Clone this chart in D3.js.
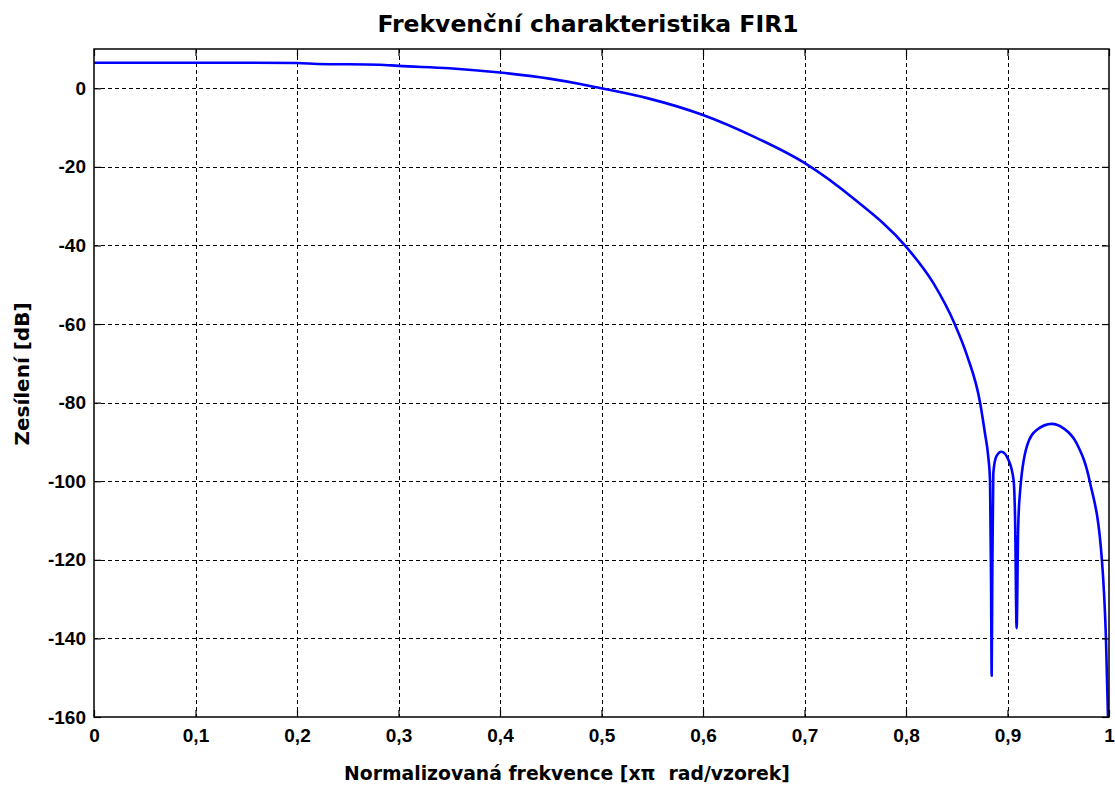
<!DOCTYPE html>
<html><head><meta charset="utf-8">
<script src="https://cdn.jsdelivr.net/npm/d3@7"></script>
<style>
html,body{margin:0;padding:0;background:#fff;}
svg{display:block;font-family:"Liberation Sans",Arial,sans-serif;}
</style></head>
<body>
<svg id="chart" width="1115" height="785"></svg>
<script>
// Normalized frequency (x pi rad/sample)
const freq = [0, 0.1, 0.2, 0.22, 0.281, 0.3, 0.35, 0.4, 0.45, 0.479, 0.5, 0.545, 0.6, 0.65, 0.7, 0.748, 0.8, 0.827, 0.848, 0.86, 0.873, 0.8778, 0.881, 0.8828, 0.8838, 0.8844, 0.885, 0.886, 0.889, 0.894, 0.901, 0.906, 0.9075, 0.909, 0.9105, 0.912, 0.919, 0.929, 0.9435, 0.955, 0.968, 0.981, 0.993, 0.997, 1.0];
// Magnitude (dB)
const gainDb = [6.5, 6.5, 6.45, 6.2, 6.0, 5.7, 5.1, 4.0, 2.4, 1.1, 0, -2.5, -6.8, -12.3, -19.0, -28, -40.3, -49.6, -60, -67.9, -80, -87.8, -93.7, -100, -125, -149.5, -125, -98, -93.7, -92.5, -94.6, -99.7, -110, -137.4, -112, -103.9, -91.2, -86.9, -85.4, -86.5, -90.3, -100, -120, -140, -170];
const xTicks = [0, 0.1, 0.2, 0.3, 0.4, 0.5, 0.6, 0.7, 0.8, 0.9, 1];
const yTicks = [0, -20, -40, -60, -80, -100, -120, -140, -160];
const titleText = "Frekvenční charakteristika FIR1";
const xLabelText = "Normalizovaná frekvence [xπ\u00a0 rad/vzorek]";
const yLabelText = "Zesílení [dB]";

const svg = d3.select("#chart");
const L = 94, R = 1109, T = 49, B = 717;
const x = d3.scaleLinear().domain([0, 1]).range([L, R]);
const y = d3.scaleLinear().domain([-160, 10]).range([B, T]);
const fmt = d => d === 0 ? "0" : d === 1 ? "1" : String(d).replace(".", ",");
const labelFont = '"DejaVu Sans", Verdana, sans-serif';

// grid
const grid = svg.append("g").attr("stroke", "#000").attr("stroke-width", 1).attr("stroke-dasharray", "4,3");
grid.selectAll(".gx").data(xTicks.slice(1, -1)).join("line")
  .attr("x1", d => Math.round(x(d)) + 0.5).attr("x2", d => Math.round(x(d)) + 0.5)
  .attr("y1", T).attr("y2", B);
grid.selectAll(".gy").data(yTicks.slice(0, -1)).join("line")
  .attr("y1", d => Math.round(y(d)) + 0.5).attr("y2", d => Math.round(y(d)) + 0.5)
  .attr("x1", L).attr("x2", R);

// curve
svg.append("clipPath").attr("id", "clip").append("rect")
  .attr("x", L).attr("y", T).attr("width", R - L).attr("height", B - T);
const pts = freq.map((f, i) => [f, gainDb[i]]);
svg.append("path").datum(pts)
  .attr("clip-path", "url(#clip)")
  .attr("fill", "none").attr("stroke", "#0000ff").attr("stroke-width", 2.6)
  .attr("stroke-linejoin", "round")
  .attr("d", d3.line().x(d => x(d[0])).y(d => y(d[1])).curve(d3.curveMonotoneX));

// axes (ticks inside)
const tl = 7;
const axB = d3.axisBottom(x).tickValues(xTicks).tickSizeInner(-tl).tickSizeOuter(0).tickPadding(12).tickFormat(fmt);
const axT = d3.axisTop(x).tickValues(xTicks).tickSizeInner(-tl).tickSizeOuter(0).tickFormat("");
const axL = d3.axisLeft(y).tickValues(yTicks).tickSizeInner(-tl).tickSizeOuter(0).tickPadding(8).tickFormat(d => String(d));
const axR = d3.axisRight(y).tickValues(yTicks).tickSizeInner(-tl).tickSizeOuter(0).tickFormat("");
function style(g) {
  g.select(".domain").remove();
  g.selectAll("line").attr("stroke", "#000").attr("stroke-width", 1.2);
  g.selectAll("text").attr("fill", "#000").attr("font-size", 19).attr("font-weight", "bold")
    .attr("font-family", '"Liberation Sans", Arial, sans-serif');
}
svg.append("g").attr("transform", `translate(0,${B})`).call(axB).call(style);
svg.append("g").attr("transform", `translate(0,${T})`).call(axT).call(style);
svg.append("g").attr("transform", `translate(${L},0)`).call(axL).call(style);
svg.append("g").attr("transform", `translate(${R},0)`).call(axR).call(style);

svg.append("rect").attr("x", L).attr("y", T).attr("width", R - L).attr("height", B - T)
  .attr("fill", "none").attr("stroke", "#000").attr("stroke-width", 1.5);

// texts
svg.append("text").attr("x", 588).attr("y", 32).attr("text-anchor", "middle")
  .attr("font-family", labelFont).attr("font-size", 23.5).attr("font-weight", "bold").text(titleText);
svg.append("text").attr("x", 567).attr("y", 780).attr("text-anchor", "middle")
  .attr("font-family", labelFont).attr("font-size", 18.8).attr("font-weight", "bold").text(xLabelText);
svg.append("text").attr("transform", `translate(29,374) rotate(-90)`).attr("text-anchor", "middle")
  .attr("font-family", labelFont).attr("font-size", 20).attr("font-weight", "bold").text(yLabelText);
</script>
</body></html>
